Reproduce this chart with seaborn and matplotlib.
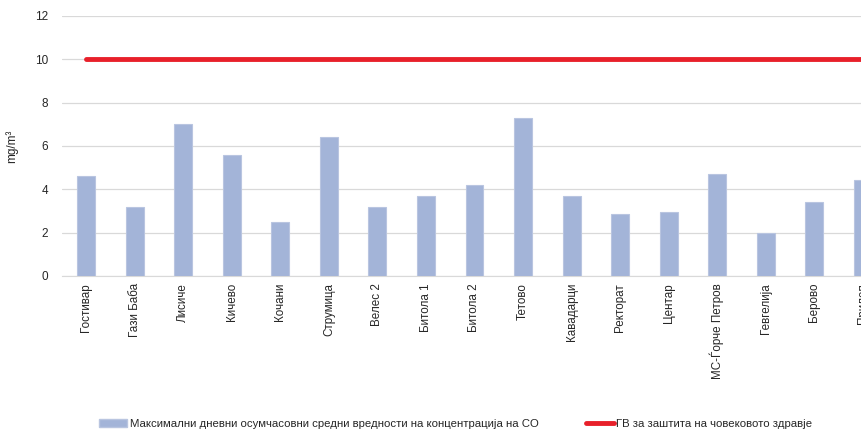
import pandas as pd
import numpy as np
import matplotlib
matplotlib.use('Agg')
import matplotlib.pyplot as plt
import seaborn as sns
from matplotlib.lines import Line2D
from matplotlib.patches import Patch

stations = ['Гостивар', 'Гази Баба', 'Лисиче', 'Кичево', 'Кочани', 'Струмица', 'Велес 2',
            'Битола 1', 'Битола 2', 'Тетово', 'Кавадарци', 'Ректорат', 'Центар',
            'МС-Ѓорче Петров', 'Гевгелија', 'Берово', 'Прилеп']
max_8h = [4.6, 3.2, 7.0, 5.6, 2.5, 6.4, 3.2, 3.7, 4.2, 7.3, 3.7, 2.85, 2.95, 4.7, 2.0, 3.4, 4.45]
limit = [10] * len(stations)

df = pd.DataFrame({'station': stations, 'value': max_8h, 'limit': limit})

sns.set_style('white')
plt.rcParams['font.family'] = ['Liberation Sans', 'DejaVu Sans']

fig = plt.figure(figsize=(8.62, 4.42), dpi=100)
ax = fig.add_axes([62 / 862, 1 - 276 / 442, 825 / 862, 260 / 442])

sns.barplot(data=df, x='station', y='value', color='#a3b4d8', width=0.37,
            edgecolor='#b9c5e0', linewidth=0.8, saturation=1, ax=ax, zorder=3)
ax.plot(np.arange(len(stations)), df['limit'], color='#e8202a', lw=3.5,
        solid_capstyle='round', zorder=4)

ax.set_xlim(-0.5, len(stations) - 0.5)
ax.set_ylim(0, 12)
ax.set_yticks(range(0, 13, 2))
ax.yaxis.grid(True, color='#d9d9d9', lw=0.9, zorder=0)
for s in ['top', 'right', 'left']:
    ax.spines[s].set_visible(False)
ax.spines['bottom'].set_color('#d9d9d9')
ax.tick_params(axis='y', length=0, labelsize=8.5, pad=10)
ax.tick_params(axis='x', length=0, labelsize=8.4, rotation=90, pad=5)
ax.set_xlabel('')
ax.set_ylabel('mg/m³', fontsize=8.5, labelpad=12)

handles = [Patch(facecolor='#a3b4d8', edgecolor='#b9c5e0'),
           Line2D([0], [0], color='#e8202a', lw=3.5)]
labels = ['Максимални дневни осумчасовни средни вредности на концентрација на CO',
          'ГВ за заштита на човековото здравје']
fig.legend(handles, labels, loc='center', bbox_to_anchor=(456 / 862, 1 - 424 / 442), ncol=2,
           frameon=False, fontsize=8.2, columnspacing=4.2, handlelength=2.45,
           handletextpad=0.2)

fig.savefig('out.png', dpi=100)
